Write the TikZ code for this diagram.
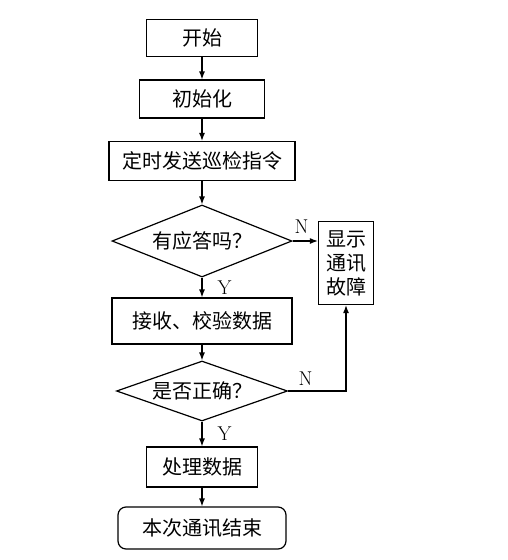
\documentclass[tikz,border=0pt]{standalone}
\usepackage{fontspec}
\newfontfamily\cjk{Noto Sans CJK SC}
\usetikzlibrary{arrows.meta,shapes.geometric}

\begin{document}
\begin{tikzpicture}[x=1pt, y=-1pt, -{Latex[length=8pt,width=6pt]}, line width=1.2pt,
      every node/.append style={font=\cjk\fontsize{20}{24}\selectfont},
      box/.style={draw, rectangle, minimum height=38pt, inner sep=0pt},
      decision/.style={draw, diamond, inner sep=0pt},
      yn/.style={font=\rmfamily\fontsize{20}{20}\selectfont, inner sep=1pt}]
    \useasboundingbox (0,0) rectangle (508,560);
    \node (start) [box, minimum width=111pt, minimum height=37pt] at (202,38) {开始};
    \node (init) [box, minimum width=125pt] at (202,99) {初始化};
    \node (poll) [box, minimum width=186pt, minimum height=39pt] at (202,161) {定时发送巡检指令};
    \node (ack) [decision, shape aspect=2.5, minimum width=180pt, minimum height=72pt] at (202,241) {有应答吗？};
    \node (fault) [box, minimum width=55pt, minimum height=83pt, align=center] at (346,263) {显示\\通讯\\故障};
    \node (check) [box, minimum width=180pt, minimum height=46pt] at (202,321) {接收、校验数据};
    \node (ok) [decision, shape aspect=2.85, minimum width=171pt, minimum height=60pt] at (202,391) {是否正确？};
    \node (proc) [box, minimum width=111pt, minimum height=40pt] at (202,467) {处理数据};
    \node (stop) [box, rounded corners=8pt, minimum width=168pt, minimum height=42pt] at (202,528) {本次通讯结束};
    % main flow
    \draw (start) -- (init);
    \draw (init) -- (poll);
    \draw (poll) -- (ack);
    \draw (ack) -- node [yn, right=14pt] {Y} (check);
    \draw (check) -- (ok);
    \draw (ok) -- node [yn, right=14pt] {Y} (proc);
    \draw (proc) -- (stop);
    % fault branches
    \draw (ack.east) -- node [yn, above=6pt, pos=0.35] {N} (ack.east -| fault.west);
    \draw (ok.east) -| node [yn, above=4pt, pos=0.15] {N} (fault.south);
\end{tikzpicture}
\end{document}
